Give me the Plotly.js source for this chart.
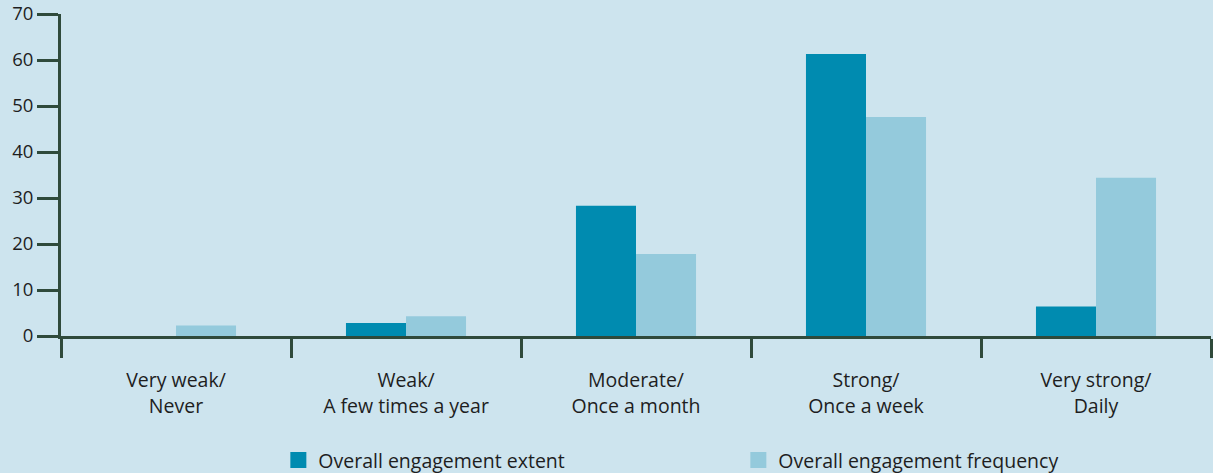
<!DOCTYPE html>
<html>
<head>
<meta charset="utf-8">
<script src="https://cdn.plot.ly/plotly-3.0.1.min.js"></script>
<style>html,body{margin:0;padding:0;background:#cde4ee;}#chart{width:1213px;height:473px;}</style>
</head>
<body>
<div id="chart"></div>
<script>
const categories = ["Very weak/<br>Never", "Weak/<br>A few times a year", "Moderate/<br>Once a month", "Strong/<br>Once a week", "Very strong/<br>Daily"];
const extentValues = [0, 2.8, 28.3, 61.3, 6.4];
const frequencyValues = [2.3, 4.3, 17.8, 47.6, 34.4];
const seriesNames = ["Overall engagement extent", "Overall engagement frequency"];
const yTicks = [0, 10, 20, 30, 40, 50, 60, 70];

const darkBlue = "#008bb0";
const lightBlue = "#94cadc";
const axisColor = "#2f4a3b";
const textColor = "#1e1e1e";

const traces = [
  {type: "bar", x: categories, y: extentValues, name: seriesNames[0], marker: {color: darkBlue}, showlegend: false, hoverinfo: "y"},
  {type: "bar", x: categories, y: frequencyValues, name: seriesNames[1], marker: {color: lightBlue}, showlegend: false, hoverinfo: "y"},
  {type: "scatter", mode: "markers", x: [null], y: [null], name: seriesNames[0], marker: {symbol: "square", size: 16, color: darkBlue}, showlegend: true},
  {type: "scatter", mode: "markers", x: [null], y: [null], name: seriesNames[1], marker: {symbol: "square", size: 16, color: lightBlue}, showlegend: true}
];

const layout = {
  width: 1213, height: 473,
  paper_bgcolor: "#cde4ee", plot_bgcolor: "#cde4ee",
  margin: {l: 61, r: 2, t: 14, b: 137, autoexpand: false},
  font: {family: "Open Sans, Noto Sans, sans-serif", size: 19.5, color: textColor},
  barmode: "group", bargap: 0.478, bargroupgap: 0,
  xaxis: {
    type: "category", tickson: "boundaries", ticks: "outside", ticklen: 19, tickwidth: 3, tickcolor: axisColor,
    showline: true, linecolor: axisColor, linewidth: 3, showgrid: false, zeroline: false,
    ticklabelstandoff: 25, automargin: false,
    tickfont: {size: 19.5, color: textColor}, fixedrange: true
  },
  yaxis: {
    range: [0, 70], tickvals: yTicks, ticks: "outside", ticklen: 21, tickwidth: 3, tickcolor: axisColor,
    showline: true, linecolor: axisColor, linewidth: 3, showgrid: false, zeroline: false, automargin: false,
    tickfont: {size: 18.5, color: textColor}, fixedrange: true
  },
  showlegend: true,
  legend: {
    orientation: "h", x: 0.189, xanchor: "left", y: -0.386, yanchor: "middle",
    entrywidth: 415, entrywidthmode: "pixels", bgcolor: "rgba(0,0,0,0)",
    font: {size: 19.5, color: textColor}
  }
};

Plotly.newPlot("chart", traces, layout, {displayModeBar: false, staticPlot: true});
</script>
</body>
</html>
